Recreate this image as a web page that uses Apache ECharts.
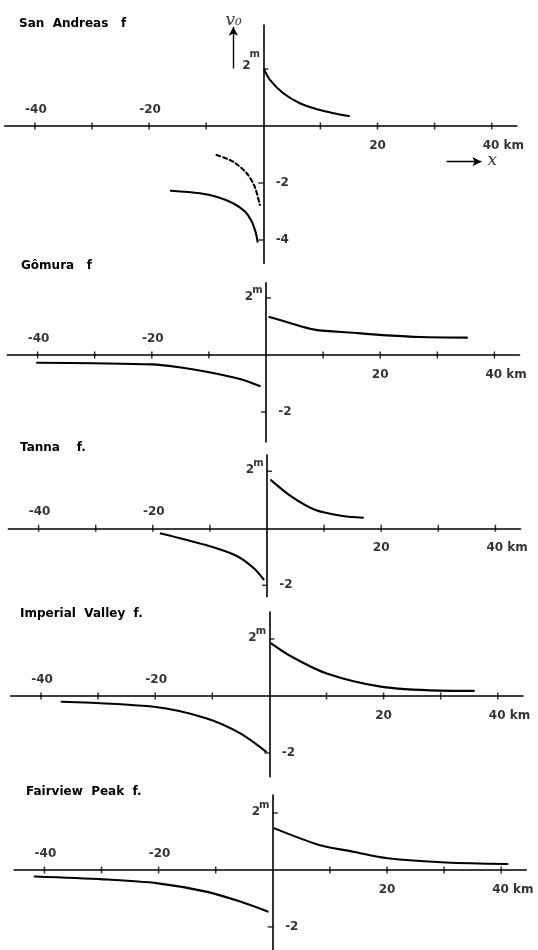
<!DOCTYPE html>
<html><head><meta charset="utf-8">
<script src="https://cdn.jsdelivr.net/npm/echarts@6/dist/echarts.min.js"></script>
<style>html,body{margin:0;padding:0;background:#fff}#c{width:538px;height:950px}</style>
</head><body><div id="c"></div>
<script>
// ---------------- data (km, m) ----------------
const panelTitles = ['San  Andreas   f', 'Gômura   f', 'Tanna    f.', 'Imperial  Valley  f.', 'Fairview  Peak  f.'];

const xTickValues = [-40, -30, -20, -10, 10, 20, 30, 40];
const xLabelValuesTop = [-40, -20];
const xLabelTextTop = ['-40', '-20'];
const xLabelValuesBottom = [20, 40];
const xLabelTextBottom = ['20', '40 km'];
const yTickValues = [[2, -2, -4], [2, -2], [2, -2], [2, -2], [2, -2]];
const yUnitText = 'm';

const sanAndreasRight  = [[0.2,1.96],[1.2,1.61],[3.5,1.15],[6.4,0.80],[9.4,0.59],[12.3,0.45],[15.0,0.35]];
const sanAndreasLeft   = [[-16.2,-2.27],[-11.1,-2.36],[-8.2,-2.48],[-5.3,-2.71],[-3.2,-3.0],[-2.0,-3.36],[-1.3,-3.76],[-1.0,-4.06]];
const sanAndreasDashed = [[-8.2,-1.02],[-5.3,-1.25],[-2.9,-1.66],[-1.5,-2.13],[-0.6,-2.77]];

const gomuraRight = [[0.6,1.33],[3.6,1.16],[8.5,0.89],[15.3,0.78],[21.2,0.69],[27.0,0.63],[35.2,0.61]];
const gomuraLeft  = [[-40.1,-0.27],[-30.2,-0.29],[-20.0,-0.33],[-15.2,-0.43],[-10.4,-0.59],[-4.4,-0.85],[-1.1,-1.09]];

const tannaRight = [[0.7,1.69],[4.3,1.11],[8.5,0.64],[13.3,0.43],[16.8,0.37]];
const tannaLeft  = [[-18.6,-0.18],[-10.7,-0.59],[-5.3,-0.97],[-2.3,-1.40],[-0.6,-1.79]];

const imperialRight = [[0.3,1.85],[3.9,1.38],[9.9,0.80],[19.5,0.33],[29.8,0.19],[35.8,0.18]];
const imperialLeft  = [[-36.4,-0.20],[-20.2,-0.38],[-11.1,-0.78],[-5.1,-1.31],[-0.6,-1.95]];

const fairviewRight = [[0.3,1.46],[8.1,0.88],[14.1,0.64],[20.1,0.41],[30.3,0.26],[41.1,0.21]];
const fairviewLeft  = [[-41.7,-0.23],[-29.7,-0.33],[-20.1,-0.47],[-11.7,-0.76],[-5.7,-1.11],[-0.9,-1.46]];

// annotation anchors (data coords, panel 1)
const vArrow = [[-5.25, 2.02], [-5.25, 3.48]];
const vLabelPos = [-5.2, 3.70];
const xArrow = [[32.1, -1.25], [38.2, -1.25]];
const xLabelPos = [40.1, -1.25];

// ---------------- layout ----------------
const INK = '#000';
const FONT = 'DejaVu Sans';
const SX = 5.71, SY = 28.5;           // px per km, px per m
const X_MIN = -45.3, X_MAX = 44.4;
const layout = [
  {x0: 263.3, y0: 126,   yMax: 3.54, yMin: -4.82, titleLeft: 19, titleMid: 25},
  {x0: 266,   y0: 355,   yMax: 2.53, yMin: -3.05, titleLeft: 21, titleMid: 266.5},
  {x0: 267,   y0: 528.3, yMax: 2.57, yMin: -2.40, titleLeft: 20, titleMid: 448.5},
  {x0: 269.4, y0: 696,   yMax: 2.95, yMin: -2.83, titleLeft: 20, titleMid: 615},
  {x0: 272.8, y0: 870,   yMax: 2.63, yMin: -2.81, titleLeft: 26, titleMid: 793}
];
const curves = [
  [{d: sanAndreasRight}, {d: sanAndreasLeft}, {d: sanAndreasDashed, dashed: true}],
  [{d: gomuraRight}, {d: gomuraLeft}],
  [{d: tannaRight}, {d: tannaLeft}],
  [{d: imperialRight}, {d: imperialLeft}],
  [{d: fairviewRight}, {d: fairviewLeft}]
];

const grids = [], xAxes = [], yAxes = [], series = [], titles = [];
const txt = (size) => ({color: INK, fontFamily: FONT, fontSize: size, fontWeight: 'bold'});

layout.forEach((p, i) => {
  grids.push({
    left: p.x0 + X_MIN * SX, width: (X_MAX - X_MIN) * SX,
    top: p.y0 - p.yMax * SY, height: (p.yMax - p.yMin) * SY
  });
  xAxes.push({
    gridIndex: i, type: 'value', min: X_MIN, max: X_MAX,
    axisLine: {show: true, onZero: true, lineStyle: {color: INK, width: 1.6}},
    axisTick: {show: false}, axisLabel: {show: false}, splitLine: {show: false}
  });
  yAxes.push({
    gridIndex: i, type: 'value', min: p.yMin, max: p.yMax,
    axisLine: {show: true, onZero: true, lineStyle: {color: INK, width: 1.6}},
    axisTick: {show: false}, axisLabel: {show: false}, splitLine: {show: false}
  });
  titles.push({
    text: panelTitles[i], left: p.titleLeft, top: p.titleMid - 7, padding: 0,
    textStyle: txt(12)
  });

  // curves
  curves[i].forEach((c, k) => {
    const s = {
      type: 'line', xAxisIndex: i, yAxisIndex: i, data: c.d,
      smooth: 0.3, showSymbol: false, silent: true,
      lineStyle: {color: INK, width: 2.1, type: c.dashed ? [4, 3] : 'solid', cap: 'round'},
      emphasis: {disabled: true}
    };
    if (i === 0 && k === 0) {
      s.markLine = {
        silent: true, symbol: ['none', 'arrow'], symbolSize: [7, 9],
        label: {show: false}, emphasis: {disabled: true},
        lineStyle: {color: INK, width: 1.4, type: 'solid'},
        data: [
          [{coord: vArrow[0]}, {coord: vArrow[1]}],
          [{coord: xArrow[0]}, {coord: xArrow[1]}]
        ]
      };
    }
    series.push(s);
  });

  // x ticks (crossing the axis)
  series.push({
    type: 'scatter', xAxisIndex: i, yAxisIndex: i, silent: true,
    symbol: 'rect', symbolSize: [1.5, 7], itemStyle: {color: INK},
    data: xTickValues.map(v => [v, 0]), emphasis: {disabled: true}
  });
  // y ticks: positive to the right, negative to the left
  series.push({
    type: 'scatter', xAxisIndex: i, yAxisIndex: i, silent: true,
    symbol: 'rect', symbolSize: [5, 1.5], symbolOffset: [2.5, 0], itemStyle: {color: INK},
    data: yTickValues[i].filter(v => v > 0).map(v => [0, v]), emphasis: {disabled: true}
  });
  series.push({
    type: 'scatter', xAxisIndex: i, yAxisIndex: i, silent: true,
    symbol: 'rect', symbolSize: [5, 1.5], symbolOffset: [-2.5, 0], itemStyle: {color: INK},
    data: yTickValues[i].filter(v => v < 0).map(v => [0, v]), emphasis: {disabled: true}
  });

  // labels
  const labelItems = [];
  xLabelValuesTop.forEach((v, j) => labelItems.push({
    value: [v, 0], label: {formatter: xLabelTextTop[j], offset: [1, -16]}
  }));
  xLabelValuesBottom.forEach((v, j) => {
    const t = xLabelTextBottom[j];
    labelItems.push(t.indexOf('km') >= 0
      ? {value: [v, 0], label: {formatter: t, align: 'left', offset: [-9, 20]}}
      : {value: [v, 0], label: {formatter: t, offset: [0, 20]}});
  });
  yTickValues[i].forEach(v => {
    if (v > 0) {
      labelItems.push({value: [0, v], label: {formatter: String(v), offset: [-17, i === 0 ? -3 : -1]}});
      labelItems.push({value: [0, v], label: {formatter: yUnitText, fontSize: 10, offset: [-8.5, i === 0 ? -15 : -8]}});
    } else {
      labelItems.push({value: [0, v], label: {formatter: String(v), offset: [19, 0]}});
    }
  });
  if (i === 0) {
    labelItems.push({value: vLabelPos, label: {formatter: 'v₀', fontFamily: 'DejaVu Serif', fontStyle: 'italic', fontWeight: 'normal', fontSize: 17}});
    labelItems.push({value: xLabelPos, label: {formatter: 'x', fontFamily: 'DejaVu Serif', fontStyle: 'italic', fontWeight: 'normal', fontSize: 17, offset: [0, -1]}});
  }
  series.push({
    type: 'scatter', xAxisIndex: i, yAxisIndex: i, silent: true, clip: false,
    symbolSize: 1, itemStyle: {color: 'rgba(0,0,0,0)'},
    label: Object.assign({show: true, position: 'inside', align: 'center', verticalAlign: 'middle'}, txt(12)),
    data: labelItems, emphasis: {disabled: true}
  });
});

const chart = echarts.init(document.getElementById('c'), null, {renderer: 'canvas'});
chart.setOption({
  animation: false,
  backgroundColor: '#fff',
  title: titles,
  grid: grids, xAxis: xAxes, yAxis: yAxes, series: series
});
</script>
</body></html>
